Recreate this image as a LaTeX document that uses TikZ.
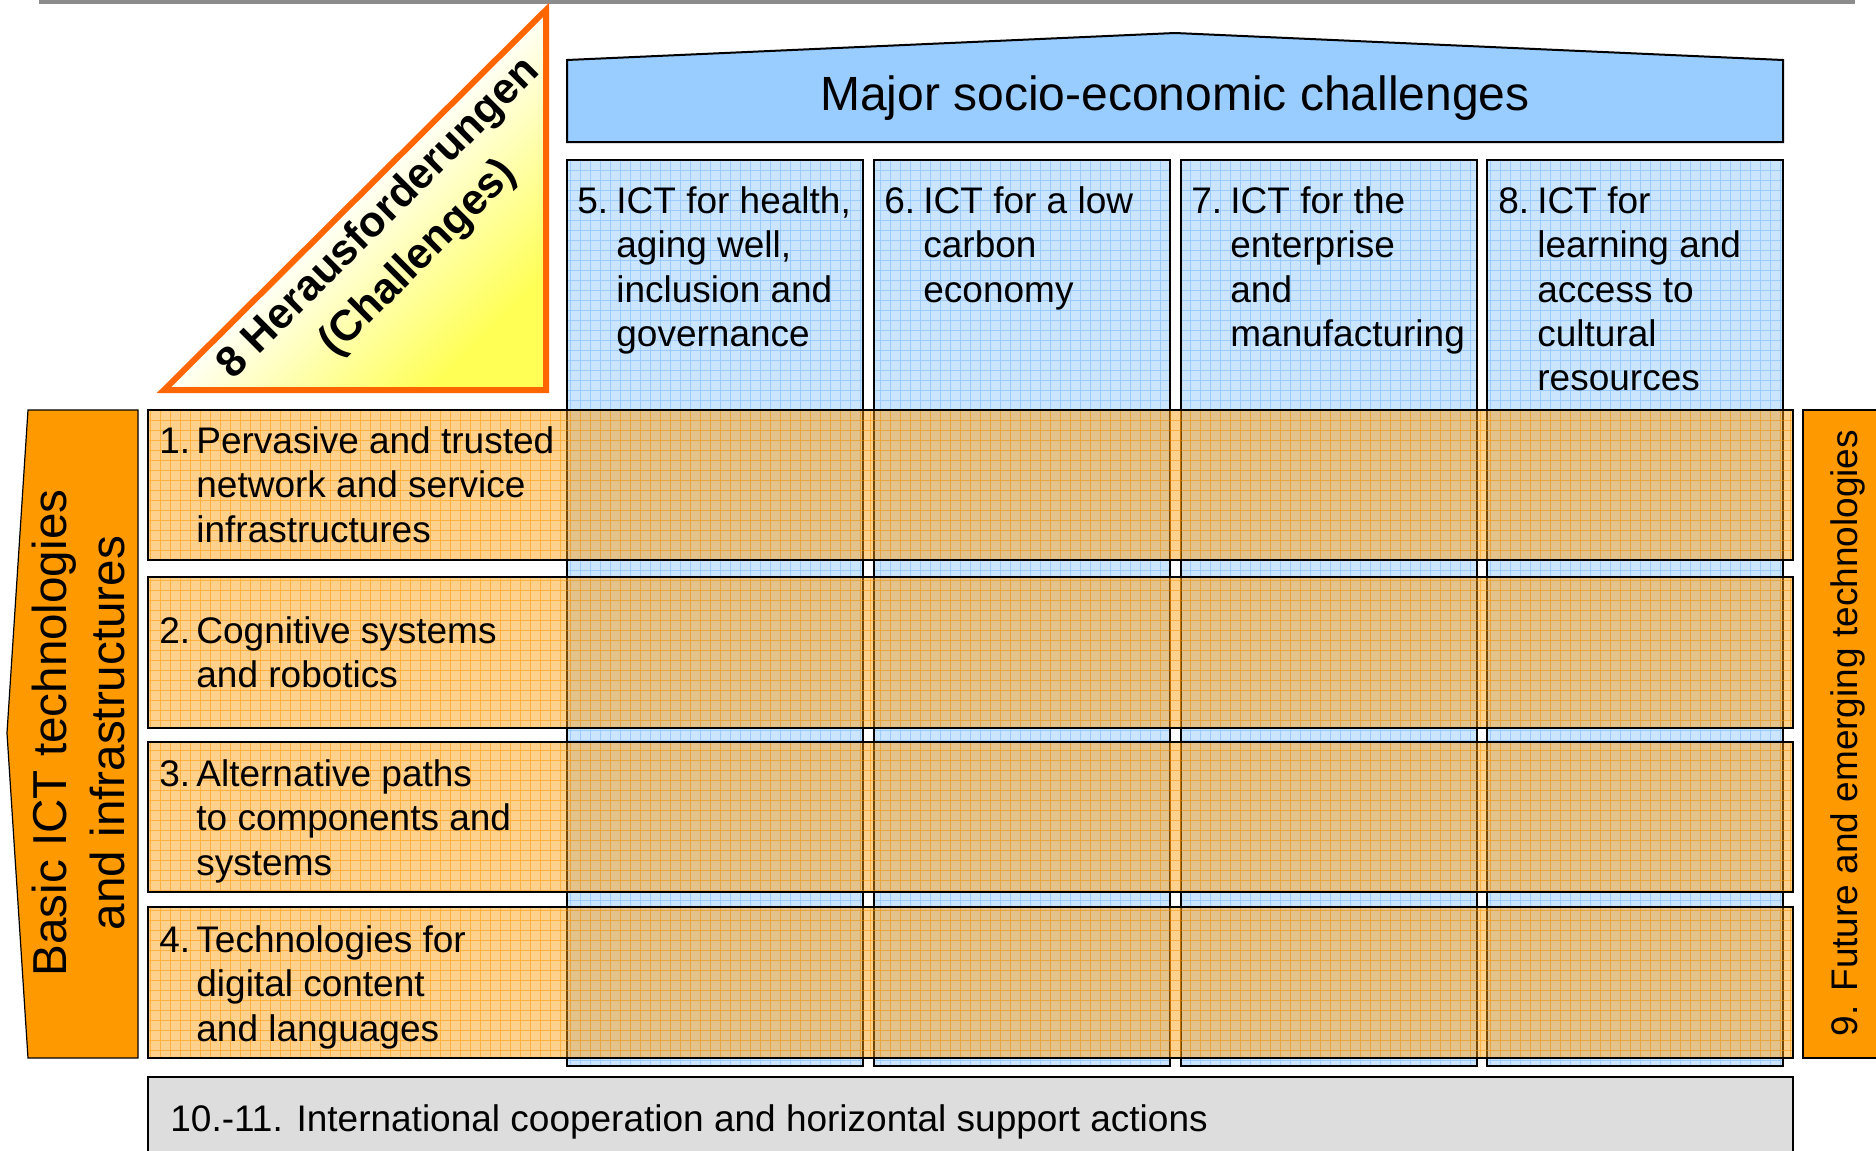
\documentclass[tikz,border=0pt]{standalone}
\usepackage{fontspec}
\setmainfont{Liberation Sans}
\definecolor{colblue}{HTML}{CCE5FF}
\definecolor{gridblue}{HTML}{9CCBFF}
\definecolor{bannerblue}{HTML}{99CCFF}
\definecolor{roworange}{HTML}{FF9900}
\definecolor{boxorange}{HTML}{FF9900}
\definecolor{triorange}{HTML}{FF6600}
\definecolor{triyellow}{HTML}{FFFF55}
\definecolor{bargray}{HTML}{DDDDDD}
\definecolor{toplinegray}{HTML}{8C8C8C}
\newcommand{\numtxt}[3][19.5pt]{\begin{tabular}[t]{@{}l@{}l@{}}\makebox[#1][l]{#2} & #3\end{tabular}}
\begin{document}
\begin{tikzpicture}[x=0.5pt,y=-0.5pt,
  bord/.style={draw=black,line width=0.8pt},
  bluegrid/.style={draw=gridblue,line width=0.4pt,xstep=5pt,ystep=5pt},
  orgrid/.style={draw=roworange,draw opacity=0.55,line width=0.5pt,xstep=5pt,ystep=5pt},
  rowfill/.style={fill=roworange,fill opacity=0.45},
  lbl/.style={inner sep=0pt,font=\fontsize{18.5}{22.25}\selectfont},
  big/.style={inner sep=0pt,font=\fontsize{24}{29}\selectfont}]
\useasboundingbox (0,0) rectangle (1876,1151);
\clip (0,0) rectangle (1876,1151);
\fill[white] (0,0) rectangle (1876,1151);
% top line
\draw[toplinegray,line width=1.75pt] (39,2) -- (1855,2);
% columns
\foreach \x in {567,874,1181,1487}{
  \fill[colblue] (\x,160) rectangle +(296,906);
  \begin{scope}
    \clip (\x,160) rectangle +(296,906);
    \draw[bluegrid] (\x,1066) grid +(296,-906);
  \end{scope}
  \draw[bord] (\x,160) rectangle +(296,906);
}
% banner
\draw[bord,line width=1pt,fill=bannerblue] (567,60) -- (1175,33) -- (1783,60) -- (1783,142) -- (567,142) -- cycle;
% rows
\foreach \y/\h in {410/150,577/151,742/150,907/151}{
  \fill[rowfill] (148,\y) rectangle +(1645,\h);
  \begin{scope}
    \clip (148,\y) rectangle +(1645,\h);
    \draw[orgrid] (148,\y+\h) grid +(1645,-\h);
  \end{scope}
  \draw[bord] (148,\y) rectangle +(1645,\h);
}
% left arrow box
\draw[draw=black,line width=0.6pt,fill=boxorange] (28,410) -- (138,410) -- (138,1058) -- (28,1058) -- (7,733) -- cycle;
% right box
\draw[draw=black,line width=0.6pt,fill=boxorange] (1803,410) rectangle (1890,1058);
% bottom bar
\draw[draw=black,line width=0.8pt,fill=bargray] (148,1077) rectangle (1793,1170);
% triangle
\shade[top color=white,bottom color=triyellow,middle color=white!94!triyellow,shading angle=45] (164,390) -- (546,10) -- (546,390) -- cycle;
\draw[triorange,line width=3pt] (164,390) -- (546,10) -- (546,390) -- cycle;
% texts
\node[inner sep=0pt,font=\bfseries\fontsize{21.5}{28}\selectfont,rotate=45] (tri) at (399,239)
  {\begin{tabular}{@{}c@{}}8 Herausforderungen\\ (Challenges)\end{tabular}};
\node[big,anchor=base] (title) at (1175,110) {Major socio-economic challenges};
\node[lbl,anchor=base west] (c5) at (577,213) {\numtxt{5.}{ICT for health,\\ & aging well,\\ & inclusion and\\ & governance}};
\node[lbl,anchor=base west] (c6) at (884,213) {\numtxt{6.}{ICT for a low\\ & carbon\\ & economy}};
\node[lbl,anchor=base west] (c7) at (1191,213) {\numtxt{7.}{ICT for the\\ & enterprise\\ & and\\ & manufacturing}};
\node[lbl,anchor=base west] (c8) at (1498,213) {\numtxt{8.}{ICT for\\ & learning and\\ & access to\\ & cultural\\ & resources}};
\node[lbl,anchor=base west] (r1) at (159,453) {\numtxt[18.5pt]{1.}{Pervasive and trusted\\ & network and service\\ & infrastructures}};
\node[lbl,anchor=base west] (r2) at (159,643) {\numtxt[18.5pt]{2.}{Cognitive systems\\ & and robotics}};
\node[lbl,anchor=base west] (r3) at (159,786) {\numtxt[18.5pt]{3.}{Alternative paths\\ & to components and\\ & systems}};
\node[lbl,anchor=base west] (r4) at (159,952) {\numtxt[18.5pt]{4.}{Technologies for\\ & digital content\\ & and languages}};
\node[inner sep=0pt,font=\fontsize{23.8}{29}\selectfont,anchor=base,rotate=90] (basic) at (66,733)
  {\begin{tabular}[t]{@{}c@{}}Basic ICT technologies\\ and infrastructures\end{tabular}};
\node[lbl,anchor=base,rotate=90] (fet) at (1857,733) {9. Future and emerging technologies};
\node[lbl,anchor=base west] (intl) at (170,1131) {10.-11. International cooperation and horizontal support actions};
\end{tikzpicture}
\end{document}
